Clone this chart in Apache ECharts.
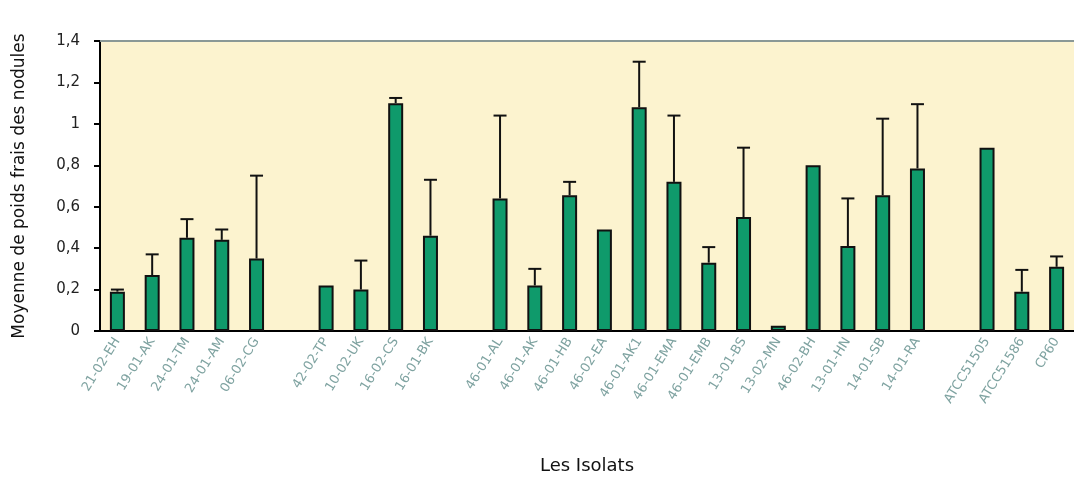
<!DOCTYPE html>
<html>
<head>
<meta charset="utf-8">
<script src="https://cdn.jsdelivr.net/npm/echarts@6/dist/echarts.min.js"></script>
<style>
  html, body { margin: 0; padding: 0; background: #fff; }
  #chart { width: 1074px; height: 480px; }
</style>
</head>
<body>
<div id="chart"></div>
<script>
// isolats (blank entries are the gaps between groups)
const categories = [
  '21-02-EH', '19-01-AK', '24-01-TM', '24-01-AM', '06-02-CG', ' ',
  '42-02-TP', '10-02-UK', '16-02-CS', '16-01-BK', '  ',
  '46-01-AL', '46-01-AK', '46-01-HB', '46-02-EA', '46-01-AK1', '46-01-EMA',
  '46-01-EMB', '13-01-BS', '13-02-MN', '46-02-BH', '13-01-HN', '14-01-SB',
  '14-01-RA', '   ',
  'ATCC51505', 'ATCC51586', 'CP60'
]

// moyenne de poids frais des nodules
const means = [
  0.19, 0.27, 0.45, 0.44, 0.35, null,
  0.22, 0.20, 1.10, 0.46, null,
  0.64, 0.22, 0.655, 0.49, 1.08, 0.72,
  0.33, 0.55, 0.025, 0.80, 0.41, 0.655,
  0.785, null,
  0.885, 0.19, 0.31
]

// upper error (ecart-type)
const errors = [
  0.01, 0.10, 0.09, 0.05, 0.40, null,
  null, 0.14, 0.025, 0.27, null,
  0.40, 0.08, 0.065, null, 0.22, 0.32,
  0.075, 0.335, null, null, 0.23, 0.37,
  0.31, null,
  null, 0.105, 0.05
]

const yTicks = [0, 0.2, 0.4, 0.6, 0.8, 1, 1.2, 1.4]

const chart = echarts.init(document.getElementById('chart'))

const errData = means.map((m, i) =>
  m != null && errors[i] != null ? [i, m, m + errors[i]] : [i, null, null]
)

const option = {
  animation: false,
  textStyle: { fontFamily: '"DejaVu Sans", "Liberation Sans", sans-serif' },
  grid: {
    left: 100,
    right: 0,
    top: 41,
    bottom: 149,
    outerBoundsMode: 'none',
    containLabel: false,
    show: true,
    backgroundColor: '#fcf3cf',
    borderWidth: 0,
  },
  xAxis: [
    {
      type: 'category',
      data: categories,
      name: 'Les Isolats',
      nameLocation: 'middle',
      nameGap: 126,
      nameTextStyle: { fontSize: 18, color: '#111' },
      axisLine: { lineStyle: { color: '#000', width: 2 } },
      axisTick: { length: 5, lineStyle: { color: '#000', width: 2 } },
      axisLabel: {
        interval: 0,
        rotate: 58,
        fontSize: 13,
        color: '#7fa3a1',
        margin: 8,
      },
    },
    {
      type: 'category',
      position: 'top',
      data: categories,
      axisLine: { lineStyle: { color: '#8a9896', width: 2 } },
      axisTick: { show: false },
      axisLabel: { show: false },
    },
  ],
  yAxis: {
    type: 'value',
    min: 0,
    max: 1.4,
    interval: 0.2,
    name: 'Moyenne de poids frais des nodules',
    nameLocation: 'middle',
    nameGap: 72,
    nameTextStyle: { fontSize: 17, color: '#111' },
    axisLine: { show: true, lineStyle: { color: '#000', width: 2 } },
    axisTick: { show: true, length: 6, lineStyle: { color: '#000', width: 2 } },
    splitLine: { show: false },
    axisLabel: {
      fontSize: 15,
      color: '#222',
      margin: 20,
      formatter: (v) => {
        const t = yTicks.find((x) => Math.abs(x - v) < 1e-6)
        return String(t != null ? t : v).replace('.', ',')
      },
    },
  },
  series: [
    {
      type: 'bar',
      data: means,
      barWidth: 15,
      itemStyle: { color: '#0f9a6b', borderColor: '#111', borderWidth: 2 },
    },
    {
      type: 'custom',
      data: errData,
      z: 3,
      renderItem: (params, api) => {
        const lo = api.value(1)
        const hi = api.value(2)
        if (lo == null || hi == null || isNaN(lo) || isNaN(hi)) return
        const p0 = api.coord([api.value(0), lo])
        const p1 = api.coord([api.value(0), hi])
        const half = 6.5
        const style = { stroke: '#111', lineWidth: 2 }
        return {
          type: 'group',
          children: [
            { type: 'line', shape: { x1: p0[0], y1: p0[1], x2: p1[0], y2: p1[1] }, style },
            { type: 'line', shape: { x1: p1[0] - half, y1: p1[1], x2: p1[0] + half, y2: p1[1] }, style },
          ],
        }
      },
    },
  ],
}

chart.setOption(option)
</script>
</body>
</html>
